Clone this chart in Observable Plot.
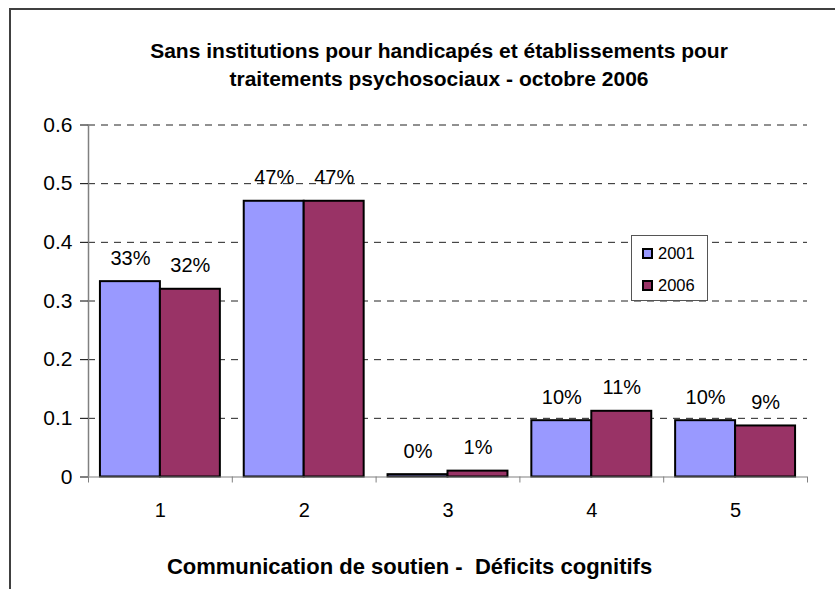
<!DOCTYPE html>
<html>
<head>
<meta charset="utf-8">
<script src="https://cdn.jsdelivr.net/npm/d3@7"></script>
<script src="https://cdn.jsdelivr.net/npm/@observablehq/plot@0.6"></script>
<style>
  html, body { margin: 0; padding: 0; background: #fff; }
  #wrap { position: relative; width: 835px; height: 589px; overflow: hidden; font-family: "Liberation Sans", Arial, sans-serif; }
  #border { position: absolute; left: 9px; top: 8px; width: 1000px; height: 1000px; border: 2px solid #404040; box-sizing: border-box; }
  #chart { position: absolute; left: 0; top: 0; }
  #legend { position: absolute; left: 631px; top: 235px; width: 77px; height: 66px; border: 1px solid #555; box-sizing: border-box; background: #fff; }
  .sw { position: absolute; left: 10px; width: 11px; height: 11px; border: 2px solid #000; box-sizing: border-box; }
  .lt { position: absolute; left: 26px; font-size: 16.5px; line-height: 20px; color: #000; }
</style>
</head>
<body>
<div id="wrap">
  <div id="border"></div>
  <div id="chart"></div>
  <div id="legend"></div>
</div>
<script>
// ---- data ----
const categories = [1, 2, 3, 4, 5];
const series = ["2001", "2006"];
const values2001 = [0.333, 0.47, 0.004, 0.096, 0.096];
const values2006 = [0.32, 0.47, 0.01, 0.112, 0.087];
const yTicks = [0, 0.1, 0.2, 0.3, 0.4, 0.5, 0.6];
const titleText = "Sans institutions pour handicapés et établissements pour\ntraitements psychosociaux - octobre 2006";
const xLabelText = "Communication de soutien -  Déficits cognitifs";

// ---- styles ----
const colors = ["#9999FF", "#993366"];
const barW = 0.417;

const rows = categories.flatMap((c, i) => [
  {cat: c, series: series[0], s: 0, value: values2001[i]},
  {cat: c, series: series[1], s: 1, value: values2006[i]}
]);
const boundaries = categories.map(c => c - 0.5).concat([categories[categories.length - 1] + 0.5]);
const pct = d3.format(".0%");
const x1 = d => d.cat + (d.s - 1) * barW;
const x2 = d => d.cat + (d.s - 1) * barW + barW;
const xc = d => d.cat + (d.s - 1) * barW + barW / 2;

const plot = Plot.plot({
  width: 835,
  height: 589,
  marginLeft: 88,
  marginRight: 28,
  marginTop: 124.5,
  marginBottom: 112.5,
  style: {fontFamily: "'Liberation Sans', Arial, sans-serif", background: "transparent", color: "#000"},
  x: {domain: [0.5, 5.5], label: null, axis: null},
  y: {domain: [0, 0.6], label: null, axis: null},
  color: {domain: series, range: colors},
  marks: [
    Plot.ruleY(yTicks.filter(t => t > 0), {stroke: "#222", strokeWidth: 1, strokeDasharray: "7,6"}),
    Plot.rectY(rows, {x1, x2, y: "value", fill: "series", stroke: "#000", strokeWidth: 2}),
    Plot.ruleX([boundaries[0]], {stroke: "#808080", strokeWidth: 1.5}),
    Plot.ruleY([0], {stroke: "#808080", strokeWidth: 1.2}),
    Plot.axisY({ticks: yTicks, tickSize: 8, tickPadding: 8, fontSize: 21, stroke: "#000",
      tickFormat: d => d === 0 ? "0" : d3.format(".1f")(d), label: null}),
    Plot.axisX({ticks: boundaries, tickSize: 6, tickFormat: () => "", stroke: "#808080", label: null}),
    Plot.axisX({ticks: categories, tickSize: 0, tickPadding: 26, fontSize: 20, tickFormat: d => String(d), label: null}),
    Plot.text(rows, {x: xc, y: "value", text: d => pct(d.value), lineAnchor: "bottom", dy: -17, fontSize: 20, fill: "#000"}),
    Plot.text([titleText], {text: d => d, frameAnchor: "top", lineAnchor: "bottom", lineHeight: 1.333, dy: -39.5, dx: -9, fontSize: 21, fontWeight: "bold", fill: "#000"}),
    Plot.text([xLabelText], {text: d => d, frameAnchor: "bottom", lineAnchor: "bottom", dy: 96.5, dx: -38.5, fontSize: 22, fontWeight: "bold", fill: "#000"})
  ]
});
document.getElementById("chart").appendChild(plot);

// legend built from series + color scale
const color = plot.scale("color");
const legend = document.getElementById("legend");
series.forEach((s, i) => {
  const sw = document.createElement("div");
  sw.className = "sw";
  sw.style.top = (12 + i * 31.5) + "px";
  sw.style.background = color.range[color.domain.indexOf(s)];
  legend.appendChild(sw);
  const t = document.createElement("div");
  t.className = "lt";
  t.style.top = (7 + i * 31.5) + "px";
  t.textContent = s;
  legend.appendChild(t);
});
</script>
</body>
</html>
